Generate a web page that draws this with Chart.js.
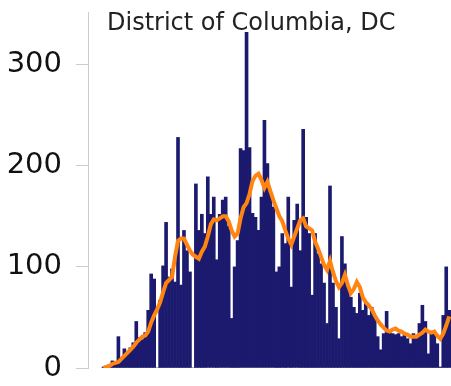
<!DOCTYPE html>
<html>
<head>
<meta charset="utf-8">
<script src="https://cdn.jsdelivr.net/npm/chart.js@4"></script>
<style>
  html, body { margin: 0; padding: 0; background: #fff; overflow: hidden; }
  #wrap { width: 451px; height: 386px; position: relative; }
</style>
</head>
<body>
<div id="wrap"><canvas id="chart"></canvas></div>
<script>
const title = 'District of Columbia, DC';

// daily new cases
const dailyCases = [1, 2, 3, 7, 5, 31, 10, 19, 15, 20,
    25, 46, 30, 28, 35, 57, 93, 88, 0, 67,
    101, 144, 90, 98, 85, 228, 82, 136, 116, 95,
    0, 182, 136, 152, 133, 189, 152, 169, 107, 152,
    166, 169, 140, 49, 100, 126, 217, 215, 332, 218,
    153, 149, 136, 169, 245, 202, 172, 159, 95, 100,
    133, 123, 169, 80, 146, 162, 116, 236, 149, 133,
    72, 133, 113, 103, 84, 44, 180, 84, 60, 29,
    130, 103, 80, 70, 60, 54, 74, 57, 64, 52,
    60, 51, 31, 18, 34, 56, 37, 34, 33, 34,
    31, 34, 29, 24, 34, 31, 44, 62, 46, 14,
    34, 34, 24, 1, 52, 100, 57];

// orange average line
const avgCases = [0, 1, 2, 4, 5, 6, 9, 12, 15, 18,
    21, 25, 28, 31, 32, 36, 45, 52, 58, 65,
    75, 84, 87, 90, 110, 126, 128, 128, 122, 116,
    112, 110, 108, 115, 120, 130, 142, 147, 146, 148,
    150, 150, 145, 136, 130, 133, 148, 159, 163, 172,
    185, 190, 192, 186, 178, 184, 175, 166, 158, 150,
    145, 136, 128, 122, 130, 138, 146, 148, 140, 138,
    136, 125, 118, 110, 102, 97, 106, 95, 86, 80,
    84, 92, 82, 74, 78, 85, 80, 70, 65, 62,
    58, 52, 47, 43, 40, 37, 36, 38, 39, 37,
    36, 34, 33, 31, 31, 31, 33, 35, 38, 36,
    35, 36, 32, 29, 34, 42, 51];

const yTicks = [0, 100, 200, 300];

const days = dailyCases.map((v, i) => i);

const titlePlugin = {
    id: 'insideTitle',
    afterDraw(chart) {
        const ctx = chart.ctx;
        ctx.save();
        ctx.font = '24px "DejaVu Sans"';
        ctx.fillStyle = '#222';
        ctx.textBaseline = 'alphabetic';
        ctx.fillText(title, 107, 29.5);
        ctx.restore();
    }
};

new Chart(document.getElementById('chart'), {
    type: 'bar',
    data: {
        datasets: [{
            type: 'line',
            data: days.map((d, i) => ({ x: d, y: avgCases[i] })),
            borderColor: '#ff8410',
            borderWidth: 4,
            pointRadius: 0,
            tension: 0,
            order: 0
        }, {
            type: 'bar',
            data: days.map((d, i) => ({ x: d, y: dailyCases[i] })),
            backgroundColor: '#1c1a6e',
            borderWidth: 0,
            barPercentage: 1,
            categoryPercentage: 1,
            order: 1
        }]
    },
    options: {
        responsive: true,
        maintainAspectRatio: false,
        animation: false,
        layout: { padding: { top: 12, bottom: 18, left: 0, right: 0 } },
        plugins: {
            legend: { display: false },
            tooltip: { enabled: false }
        },
        scales: {
            x: {
                type: 'linear',
                display: false,
                offset: false,
                min: -5.2,
                max: 116.6
            },
            y: {
                min: 0,
                max: 352,
                afterFit: (scale) => {
                    scale.width = 88;
                    scale.paddingTop = 0;
                    scale.paddingBottom = 0;
                },
                border: { display: true, color: '#cccccc', width: 1 },
                grid: { drawOnChartArea: false, drawTicks: true, tickLength: 12, tickColor: '#cccccc' },
                ticks: {
                    includeBounds: false,
                    stepSize: 100,
                    padding: 14,
                    color: '#111',
                    font: { family: 'DejaVu Sans', size: 29 },
                    callback: (v) => yTicks.includes(v) ? String(v) : ''
                }
            }
        }
    },
    plugins: [titlePlugin]
});
</script>
</body>
</html>
